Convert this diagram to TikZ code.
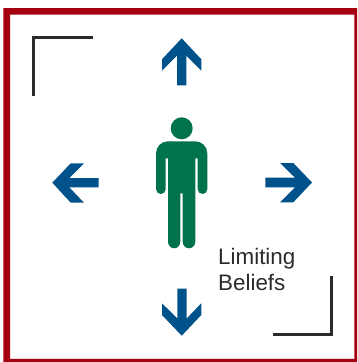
\documentclass[tikz,border=0pt]{standalone}
\usepackage{fontspec}
\setmainfont{Liberation Sans}
\definecolor{framered}{HTML}{A30010}
\definecolor{arrowblue}{HTML}{00528A}
\definecolor{persongreen}{HTML}{00734A}
\definecolor{inkdark}{HTML}{2B2B2B}
\tikzset{
  px/.style={x=1pt,y=-1pt},
  cornerline/.style={draw=inkdark,line width=2.6pt},
  blueshape/.style={fill=arrowblue,draw=none},
  greenshape/.style={fill=persongreen,draw=none},
  labeltext/.style={anchor=base west,inner sep=0pt,font=\fontsize{22.4pt}{25.7pt}\selectfont,text=inkdark}
}
\begin{document}
\begin{tikzpicture}[px]
\useasboundingbox (0,0) rectangle (357,362);
\fill[white] (0,0) rectangle (357,362);
\fill[framered,even odd rule] (3.3,8) rectangle (357,362) (10,14.5) rectangle (354.3,358.9);
\draw[cornerline] (92.7,37.3) -- (33.6,37.3) -- (33.6,95.7);
\draw[cornerline] (272.7,334.6) -- (331.3,334.6) -- (331.3,275.7);
% up arrow
\fill[blueshape] (181.7,38.3) -- (201.3,59.3) -- (201.3,70.7) -- (186.3,55.7) -- (186.3,85.3) -- (177,85.3) -- (177,55.7) -- (162,70.7) -- (162,59.3) -- cycle;
% down arrow
\fill[blueshape] (181.7,335.7) -- (201.3,315) -- (201.3,303.3) -- (186.7,318.4) -- (186.7,288.7) -- (177.3,288.7) -- (177.3,318.4) -- (162,303.3) -- (162,315) -- cycle;
% left arrow
\fill[blueshape] (52.3,182.7) -- (70.7,163.3) -- (84,163.3) -- (69.3,178) -- (98.7,178) -- (98.7,187.3) -- (69.3,187.3) -- (84,202.7) -- (70.7,202.7) -- cycle;
% right arrow
\fill[blueshape] (312,182.5) -- (293.3,163) -- (280,163) -- (295,177.7) -- (265.3,177.7) -- (265.3,187.3) -- (295,187.3) -- (280,202.3) -- (293.3,202.3) -- cycle;
% person
\fill[greenshape] (181.7,128.3) circle[radius=11];
\fill[greenshape] (168,141.3) .. controls (161.4,141.3) and (156,146.7) .. (156,153.3)
  -- (156,189.2) .. controls (156,191.9) and (158.2,194) .. (160.85,194)
  .. controls (163.5,194) and (165.7,191.9) .. (165.7,189.2)
  -- (165.7,158.3) -- (168,158.3) -- (168,241.5)
  .. controls (168,245.3) and (170.8,248.3) .. (174.15,248.3)
  .. controls (177.5,248.3) and (180.3,245.3) .. (180.3,241.5)
  -- (180.3,193.3) -- (182.7,193.3) -- (182.7,241.5)
  .. controls (182.7,245.3) and (185.5,248.3) .. (189,248.3)
  .. controls (192.5,248.3) and (195.3,245.3) .. (195.3,241.5)
  -- (195.3,158.3) -- (197.7,158.3) -- (197.7,189.2)
  .. controls (197.7,191.9) and (199.9,194) .. (202.5,194)
  .. controls (205.1,194) and (207.3,191.9) .. (207.3,189.2)
  -- (207.3,153.3) .. controls (207.3,146.7) and (201.9,141.3) .. (195.3,141.3)
  -- cycle;
\node[labeltext] (limitingLabel) at (218,264.3) {Limiting};
\node[labeltext] (beliefsLabel) at (218,290) {Beliefs};
\end{tikzpicture}
\end{document}
